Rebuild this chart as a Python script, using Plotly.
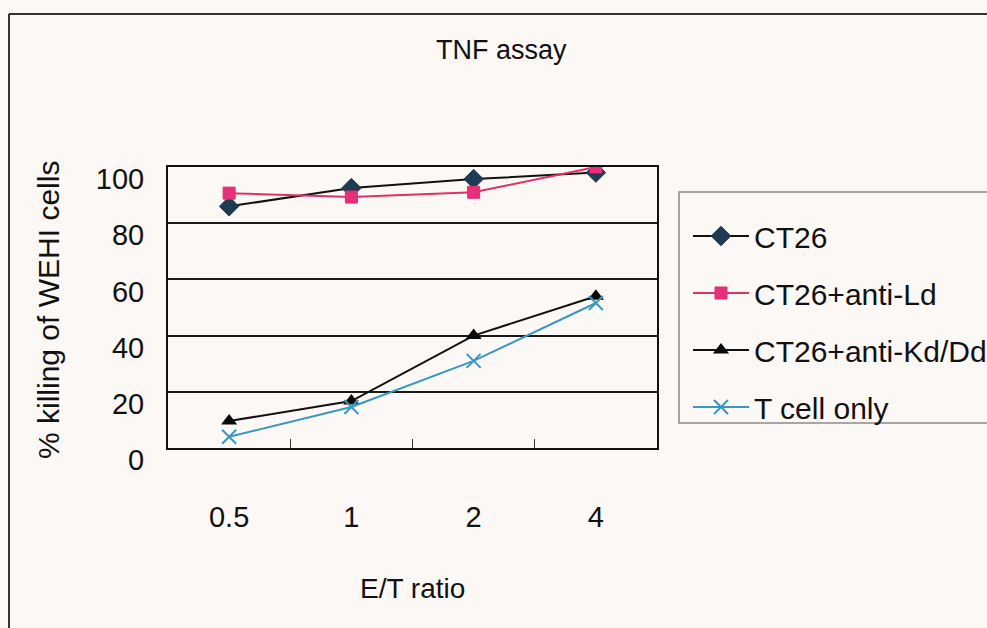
import plotly.graph_objects as go

# E/T ratios on the category axis
ratios = ["0.5", "1", "2", "4"]

# % killing of WEHI cells per condition
ct26 = [86, 92.5, 95.7, 98]
ct26_anti_ld = [90.7, 89.3, 91, 100]
ct26_anti_kd_dd = [9.6, 16.7, 40, 54]
t_cell_only = [4, 14.6, 31, 51.6]

y_ticks = [0, 20, 40, 60, 80, 100]

W, H = 987, 628
L, R, T, B = 168, 657, 167, 448  # plot-area edges in pixels
BG = "#fcf8f5"
FONT = "Liberation Sans, Arial, sans-serif"


def px_x(x):
    return (x - L) / (R - L)


def px_y(y):
    return (B - y) / (B - T)


series = [
    ("CT26", ct26, "#111111", dict(symbol="diamond", size=15, color="#1f3a52",
                                   line=dict(color="#1f3a52", width=1))),
    ("CT26+anti-Ld", ct26_anti_ld, "#e0306c", dict(symbol="square", size=12, color="#e8307a",
                                                   line=dict(color="#e0306c", width=1))),
    ("CT26+anti-Kd/Dd", ct26_anti_kd_dd, "#111111", dict(symbol="triangle-up", size=14, color="#0a0a0a")),
    ("T cell only", t_cell_only, "#3a98bd", dict(symbol="x-thin", size=14,
                                                 line=dict(color="#3a98bd", width=2))),
]

fig = go.Figure()
for i, (name, vals, lc, mk) in enumerate(series):
    fig.add_trace(go.Scatter(
        x=ratios, y=vals, name=name, mode="lines+markers",
        line=dict(color=lc, width=2), marker=mk,
        legendgroup=f"g{i}",
    ))

fig.update_layout(
    width=W, height=H,
    margin=dict(l=L, r=W - R, t=T, b=H - B, pad=0, autoexpand=False),
    paper_bgcolor=BG, plot_bgcolor=BG,
    font=dict(family=FONT, size=30, color="#111111"),
    showlegend=True,
    legend=dict(
        x=px_x(688), y=px_y(210), xanchor="left", yanchor="top",
        bgcolor="rgba(0,0,0,0)", borderwidth=0,
        font=dict(size=30, family=FONT, color="#111111"),
        tracegroupgap=15, itemwidth=56,
    ),
    xaxis=dict(
        type="category", range=[-0.5, 3.5], tickson="boundaries", ticks="inside", ticklen=9,
        tickcolor="#333333", tickwidth=1, showgrid=False,
        showline=True, linecolor="#111111", linewidth=2, mirror=True,
        ticklabelstandoff=42, tickfont=dict(size=29),
    ),
    yaxis=dict(
        range=[0, 100], tickvals=y_ticks, ticks="", showgrid=True,
        gridcolor="#1a1a1a", gridwidth=1.5, zeroline=False,
        showline=True, linecolor="#111111", linewidth=2, mirror=True,
        ticklabelstandoff=16, ticklabelshift=12, tickfont=dict(size=29),
    ),
    annotations=[
        dict(text="TNF assay", xref="paper", yref="paper", x=px_x(501), y=px_y(50),
             showarrow=False, font=dict(size=27), xanchor="center", yanchor="middle"),
        dict(text="E/T ratio", xref="paper", yref="paper", x=px_x(412), y=px_y(588),
             showarrow=False, font=dict(size=28), xanchor="center", yanchor="middle"),
        dict(text="% killing of WEHI cells", xref="paper", yref="paper", x=px_x(48), y=px_y(310),
             showarrow=False, textangle=-90, font=dict(size=30), xanchor="center", yanchor="middle"),
    ],
    shapes=[
        # outer chart frame (top and left edges)
        dict(type="line", xref="paper", yref="paper", x0=px_x(9), x1=px_x(990), y0=px_y(14), y1=px_y(14),
             line=dict(color="#333333", width=2)),
        dict(type="line", xref="paper", yref="paper", x0=px_x(9), x1=px_x(9), y0=px_y(14), y1=px_y(640),
             line=dict(color="#333333", width=2)),
        # legend box
        dict(type="rect", xref="paper", yref="paper", x0=px_x(679), x1=px_x(995), y0=px_y(192), y1=px_y(423),
             line=dict(color="#8a8a8a", width=1.5), fillcolor="rgba(0,0,0,0)", layer="below"),
    ],
)

fig.write_html("out.html")
